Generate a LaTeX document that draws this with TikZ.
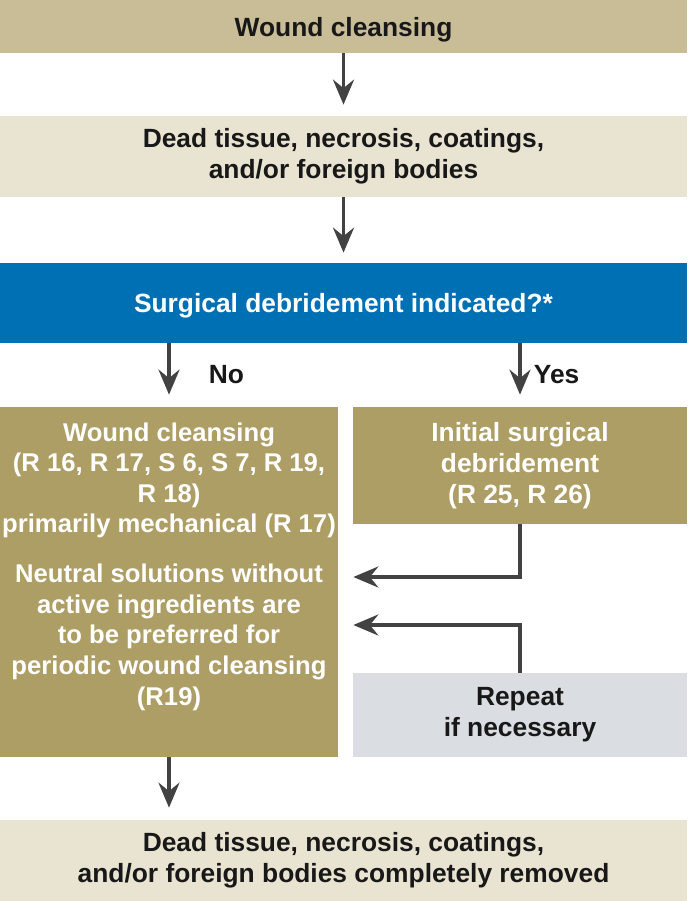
\documentclass[tikz,border=0pt]{standalone}
\usepackage{fontspec}
\setmainfont{Liberation Sans}
\usetikzlibrary{arrows.meta}
\definecolor{tanbox}{RGB}{201,189,152}
\definecolor{beigebox}{RGB}{233,227,210}
\definecolor{bluebox}{RGB}{0,112,181}
\definecolor{olivebox}{RGB}{173,158,102}
\definecolor{greybox}{RGB}{218,222,227}
\definecolor{arrowgrey}{RGB}{66,66,66}
\definecolor{darktext}{RGB}{24,24,24}
\tikzstyle{stage}=[fill=beigebox, text=darktext, align=center,
  font=\bfseries\fontsize{15}{17.6}\selectfont,
  minimum width=13.74cm, inner sep=0pt]
\tikzstyle{headstage} = [stage, fill=tanbox, text depth=0pt]
\tikzstyle{question} = [stage, fill=bluebox, text=white, text depth=0pt]
\tikzstyle{branch} = [stage, fill=olivebox, text=white, minimum width=6.68cm]
\tikzstyle{repeatbox} = [branch, fill=greybox, text=darktext]
\tikzstyle{answer} = [text=darktext, font=\bfseries\fontsize{15}{17.6}\selectfont, inner sep=0pt]
\tikzstyle{line} = [draw, line width=2.2pt, color=arrowgrey,
  -{Stealth[length=0.5cm,width=0.42cm,inset=0.17cm]}]

\begin{document}
\begin{tikzpicture}
  \useasboundingbox (0,0) rectangle (13.74,-18.02);

  % main column
  \path (6.87,-0.53) node (CLEANSE) [headstage, minimum height=1.06cm] {Wound cleansing};
  \path (6.87,-3.13) node (DEADTISSUE) [stage, minimum height=1.62cm]
    {Dead tissue, necrosis, coatings,\\and/or foreign bodies};
  \path (6.87,-6.06) node (DEBRIDQ) [question, minimum height=1.6cm]
    {Surgical debridement indicated?*};

  % the two branches
  \path (3.38,-11.64) node (WOUNDCLEAN) [branch, minimum width=6.76cm, minimum height=7.0cm] {};
  \path (WOUNDCLEAN.north)+(0.0,-0.31) node (WOUNDTEXT) [anchor=north, align=center, text=white,
    font=\bfseries\fontsize{14.6}{17.4}\selectfont, inner sep=0pt]
    {Wound cleansing\\(R 16, R 17, S 6, S 7, R 19,\\R 18)\\primarily mechanical (R 17)\\[11pt]
     Neutral solutions without\\active ingredients are\\to be preferred for\\periodic wound cleansing\\(R19)};
  \path (10.4,-9.31) node (INITIALDEB) [branch, minimum height=2.34cm]
    {Initial surgical\\debridement\\(R 25, R 26)};
  \path (10.4,-14.3) node (REPEAT) [repeatbox, minimum height=1.68cm]
    {Repeat\\if necessary};

  \path (6.87,-17.21) node (REMOVED) [stage, minimum height=1.62cm]
    {Dead tissue, necrosis, coatings,\\and/or foreign bodies completely removed};

  % Draw arrows between elements
  \path [line, shorten >=0.22cm] (CLEANSE.south) -- (DEADTISSUE.north);
  \path [line, shorten >=0.2cm] (DEADTISSUE.south) -- (DEBRIDQ.north);
  \path [line, shorten >=0.24cm] (DEBRIDQ.south -| WOUNDCLEAN.north) --
    node [midway, right=0.76cm, answer] {No} (WOUNDCLEAN.north);
  \path [line, shorten >=0.24cm] (DEBRIDQ.south -| INITIALDEB.north) --
    node [midway, right=0.24cm, answer] {Yes} (INITIALDEB.north);
  \path [line, shorten >=0.3cm] (INITIALDEB.south) |- ([yshift=0.1cm]WOUNDCLEAN.east);
  \path [line, shorten >=0.3cm] (REPEAT.north) |- ([yshift=-0.86cm]WOUNDCLEAN.east);
  \path [line, shorten >=0.24cm] (WOUNDCLEAN.south) -- (REMOVED.north -| WOUNDCLEAN.south);

\end{tikzpicture}
\end{document}
